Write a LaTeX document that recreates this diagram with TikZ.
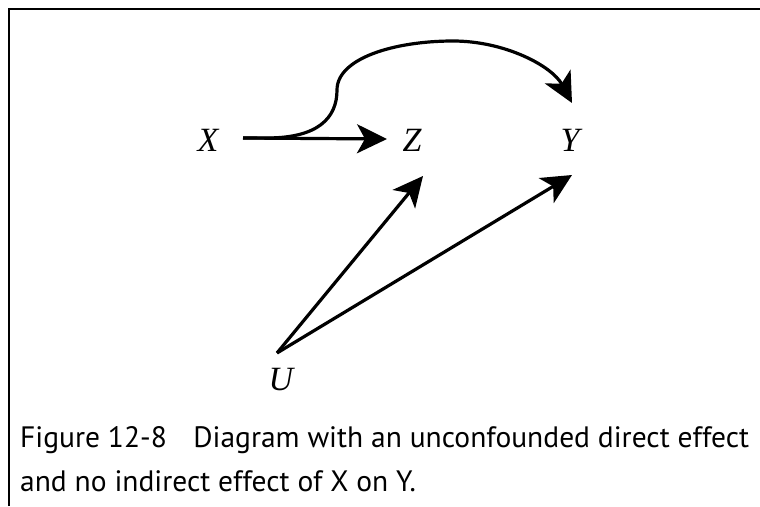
\documentclass[tikz,border=0pt]{standalone}
\usepackage{fontspec}
\usepackage{tikz}
\usetikzlibrary{arrows.meta,positioning}
\newfontfamily\capfont{PT Sans}
\newfontfamily\varfont{Liberation Serif}

\tikzset{
  var/.style={inner sep=0pt, font=\varfont\itshape\fontsize{34}{38}\selectfont},
  arr/.style={-{Stealth[length=30pt, width=29pt, inset=8pt]}, line width=3.2pt},
  captext/.style={anchor=base west, inner sep=0pt, font=\capfont\fontsize{29.5}{34}\selectfont}
}

\begin{document}
\begin{tikzpicture}[x=1pt, y=-1pt]
    \useasboundingbox (0,0) rectangle (760,506);

    % frame (left and top only)
    \draw[line width=2pt] (9,506) -- (9,9) -- (760,9);

    % variables
    \node[var] (X) at (208,140) {X};
    \node[var] (Z) at (412,140) {Z};
    \node[var] (Y) at (570,140) {Y};
    \node[var] (U) at (281,380) {U};
    \coordinate (Utop) at ([xshift=-4pt, yshift=27pt]U.center);

    % edges
    \draw[arr] ([xshift=35pt, yshift=2pt]X.center) -- ([xshift=-25pt, yshift=1pt]Z.center);
    \draw[arr] (Utop) -- ([xshift=11pt, yshift=-36pt]Z.center);
    \draw[arr] (Utop) -- ([xshift=2pt, yshift=-35pt]Y.center);

    % direct effect X -> Y
    \draw[arr] ([xshift=35pt, yshift=2pt]X.center) -- ++(24,0)
        .. controls (318,138) and (337,118) .. (337,90)
        .. controls (337,58) and (395,41) .. (453,41)
        .. controls (505,41) and (552,66) .. ([xshift=2pt, yshift=37pt]Y.center);

    % caption
    \node[captext] (cap1) at (20,447) {Figure 12-8\hspace{0.9em}Diagram with an unconfounded direct effect};
    \node[captext] (cap2) at (20,491) {and no indirect effect of X on Y.};

\end{tikzpicture}
\end{document}
